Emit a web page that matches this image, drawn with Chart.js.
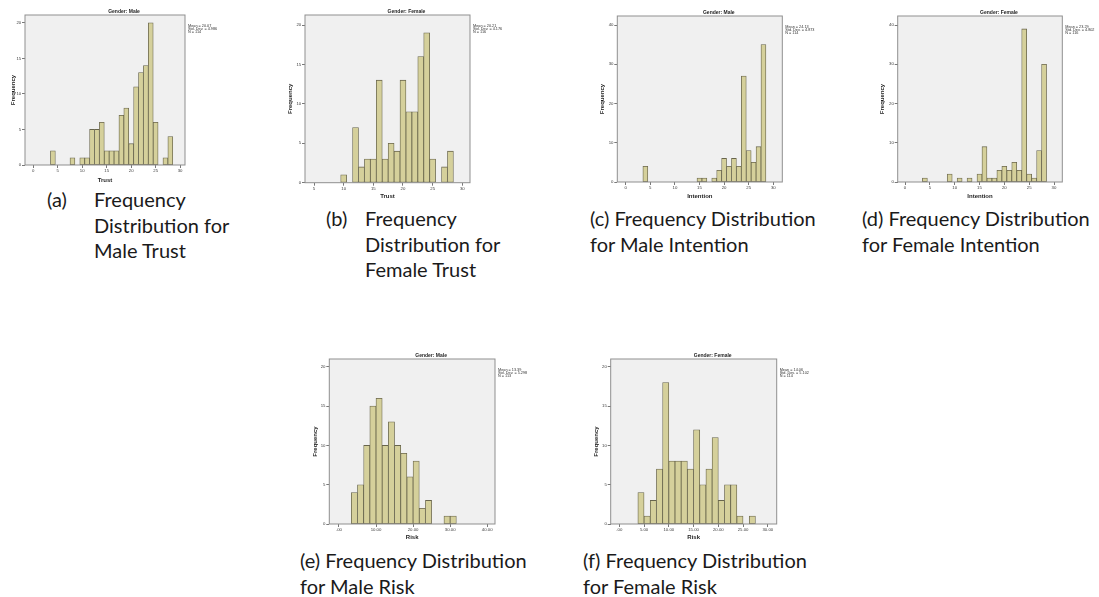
<!DOCTYPE html>
<html>
<head>
<meta charset="utf-8">
<script src="https://cdn.jsdelivr.net/npm/chart.js@4.4.1/dist/chart.umd.min.js"></script>
<style>
  body { margin: 0; background: #fff; width: 1099px; height: 597px; overflow: hidden; position: relative; }
  canvas { position: absolute; }
  .cap { position: absolute; font-family: Lato, "Noto Sans", sans-serif; font-size: 20px; line-height: 25.7px; color: #1a1a1a; white-space: nowrap; }
</style>
</head>
<body>
<div class="cap" style="left:47px;top:187px">(a)</div>
<div class="cap" style="left:94px;top:187px">Frequency<br>Distribution for<br>Male Trust</div>
<div class="cap" style="left:326px;top:206px">(b)</div>
<div class="cap" style="left:365px;top:206px">Frequency<br>Distribution for<br>Female Trust</div>
<div class="cap" style="left:590px;top:206px">(c) Frequency Distribution<br>for Male Intention</div>
<div class="cap" style="left:862px;top:206px">(d) Frequency Distribution<br>for Female Intention</div>
<div class="cap" style="left:300px;top:548px">(e) Frequency Distribution<br>for Male Risk</div>
<div class="cap" style="left:583px;top:548px">(f) Frequency Distribution<br>for Female Risk</div>

<script>
// bin centres (score values) and counts
const trustBins = [4, 5, 6, 7, 8, 9, 10, 11, 12, 13, 14, 15, 16, 17, 18, 19, 20, 21, 22, 23, 24, 25, 26, 27, 28];
const maleTrust = [2, 0, 0, 0, 1, 0, 1, 1, 5, 5, 6, 2, 2, 2, 7, 8, 3, 11, 13, 14, 20, 6, 0, 1, 4];
const femaleTrust = [0, 0, 0, 0, 0, 0, 1, 0, 7, 2, 3, 3, 13, 3, 5, 4, 13, 9, 9, 16, 19, 3, 0, 2, 4];

const intentionBins = [4, 5, 6, 7, 8, 9, 10, 11, 12, 13, 14, 15, 16, 17, 18, 19, 20, 21, 22, 23, 24, 25, 26, 27, 28];
const maleIntention = [4, 0, 0, 0, 0, 0, 0, 0, 0, 0, 0, 1, 1, 0, 1, 3, 6, 4, 6, 4, 27, 8, 5, 9, 35];
const femaleIntention = [1, 0, 0, 0, 0, 2, 0, 1, 0, 1, 0, 2, 9, 1, 1, 3, 4, 3, 5, 3, 39, 2, 1, 8, 30];

const maleRiskBins = [4.167, 5.833, 7.5, 9.167, 10.833, 12.5, 14.167, 15.833, 17.5, 19.167, 20.833, 22.5, 24.167, 25.833, 27.5, 29.167, 30.833];
const maleRisk = [4, 5, 10, 15, 16, 10, 13, 10, 9, 6, 8, 2, 3, 0, 0, 1, 1];
const femaleRiskBins = [4.375, 5.625, 6.875, 8.125, 9.375, 10.625, 11.875, 13.125, 14.375, 15.625, 16.875, 18.125, 19.375, 20.625, 21.875, 23.125, 24.375, 25.625, 26.875];
const femaleRisk = [4, 1, 3, 7, 18, 8, 8, 8, 7, 12, 5, 7, 11, 3, 5, 5, 1, 0, 1];

// legend text beside each plot
const statsMaleTrust = ['Mean = 20.07', 'Std. Dev. = 4.986', 'N = 114'];
const statsFemaleTrust = ['Mean = 20.21', 'Std. Dev. = 4.176', 'N = 116'];
const statsMaleIntention = ['Mean = 24.13', 'Std. Dev. = 4.873', 'N = 114'];
const statsFemaleIntention = ['Mean = 23.29', 'Std. Dev. = 4.802', 'N = 116'];
const statsMaleRisk = ['Mean = 13.39', 'Std. Dev. = 5.298', 'N = 113'];
const statsFemaleRisk = ['Mean = 14.06', 'Std. Dev. = 5.102', 'N = 114'];

const FONT = '"Liberation Sans", Arial, sans-serif';

// where each plot frame sits on the page: [left, top, right, bottom]
const panels = [
  { frame: [25, 15, 185, 165], rowTop: 0, offY: 11.7, offX: 15, x: [-1.7, 31.0, 5], y: [21.1, 5],
    title: 'Gender: Male', xTitle: 'Trust', bins: trustBins, counts: maleTrust, stats: statsMaleTrust },
  { frame: [305, 15, 470, 182.7], rowTop: 0, offY: 14.3, offX: 14, x: [3.48, 31.3, 5], y: [21.27, 5],
    title: 'Gender: Female', xTitle: 'Trust', bins: trustBins, counts: femaleTrust, stats: statsFemaleTrust },
  { frame: [617.3, 16, 782.3, 182], rowTop: 0, offY: 15, offX: 14.7, x: [-1.7, 31.83, 5], y: [42.3, 10],
    title: 'Gender: Male', xTitle: 'Intention', bins: intentionBins, counts: maleIntention, stats: statsMaleIntention },
  { frame: [897.7, 16, 1062.3, 182], rowTop: 0, offY: 15, offX: 14.7, x: [-1.47, 31.67, 5], y: [42.3, 10],
    title: 'Gender: Female', xTitle: 'Intention', bins: intentionBins, counts: femaleIntention, stats: statsFemaleIntention },
  { frame: [329.3, 359, 495, 524], rowTop: 340, offY: 14, offX: 13.7, x: [-2.6, 42.1, 10], y: [21.0, 5], risk: true,
    title: 'Gender: Male', xTitle: 'Risk', bins: maleRiskBins, counts: maleRisk, stats: statsMaleRisk },
  { frame: [610.7, 359, 776.7, 524], rowTop: 340, offY: 14, offX: 13.7, x: [-1.74, 31.8, 5], y: [21.0, 5], risk: true,
    title: 'Gender: Female', xTitle: 'Risk', bins: femaleRiskBins, counts: femaleRisk, stats: statsFemaleRisk }
];

// grey plot background, frame, heading and the stats block
const spssFrame = {
  id: 'spssFrame',
  beforeDraw(chart) {
    const { ctx, chartArea: a } = chart;
    ctx.save();
    ctx.fillStyle = '#f0f0f0';
    ctx.fillRect(a.left, a.top, a.right - a.left, a.bottom - a.top);
    ctx.restore();
  },
  afterDatasetsDraw(chart, args, opts) {
    const { ctx, chartArea: a } = chart;
    ctx.save();
    ctx.strokeStyle = '#8f8f8f';
    ctx.lineWidth = 1;
    ctx.strokeRect(a.left, a.top, a.right - a.left, a.bottom - a.top);
    ctx.fillStyle = '#1e1e1e';
    ctx.font = 'bold 5px ' + FONT;
    ctx.textAlign = 'center';
    ctx.textBaseline = 'middle';
    ctx.fillText(opts.title, (a.left + a.right) / 2 + 19, a.top - 3.5);
    ctx.font = '3.8px ' + FONT;
    ctx.textAlign = 'left';
    ctx.fillStyle = '#333';
    opts.stats.forEach((s, i) => ctx.fillText(s, a.right + 3, a.top + 10.5 + i * 3.3));
    ctx.restore();
  }
};

panels.forEach(p => {
  const [fl, ft, fr, fb] = p.frame;
  const cx = Math.round(fl - p.offY - 3.6);
  const cy = p.rowTop;
  const cw = Math.min(1099, Math.round(fr + 37)) - cx;
  const ch = Math.round(fb + p.offX + 3.6) - cy;
  const yW = fl - cx;
  const xH = cy + ch - fb;

  const cv = document.createElement('canvas');
  cv.width = cw; cv.height = ch;
  cv.style.left = cx + 'px'; cv.style.top = cy + 'px';
  cv.style.width = cw + 'px'; cv.style.height = ch + 'px';
  document.body.appendChild(cv);

  new Chart(cv, {
    type: 'bar',
    data: {
      datasets: [{
        data: p.bins.map((b, i) => ({ x: b, y: p.counts[i] })),
        backgroundColor: '#d5d09b',
        borderColor: '#68654c',
        borderWidth: 0.8,
        borderSkipped: false,
        barPercentage: 1,
        categoryPercentage: 1
      }]
    },
    options: {
      responsive: false,
      animation: false,
      devicePixelRatio: 1,
      layout: { padding: { left: 0, top: ft - cy, right: cx + cw - fr, bottom: 0 } },
      plugins: {
        legend: { display: false },
        tooltip: { enabled: false },
        spssFrame: { title: p.title, stats: p.stats }
      },
      scales: {
        x: {
          type: 'linear', min: p.x[0], max: p.x[1], offset: false,
          afterFit: s => { s.height = xH; },
          ticks: {
            stepSize: p.x[2], includeBounds: false, autoSkip: false, maxRotation: 0, padding: 0.5,
            color: '#3a3a3a', font: { family: FONT, size: 4.3 },
            callback: v => p.risk ? (v === 0 ? '.00' : v.toFixed(2)) : String(v)
          },
          grid: { drawOnChartArea: false, drawTicks: true, tickLength: 3, color: '#555', lineWidth: 0.8, offset: false },
          border: { display: false },
          title: { display: true, text: p.xTitle, padding: 0, color: '#1e1e1e', font: { family: FONT, size: 6, weight: 'bold' } }
        },
        y: {
          min: 0, max: p.y[0],
          afterFit: s => { s.width = yW; },
          ticks: {
            stepSize: p.y[1], includeBounds: false, padding: 0.8,
            color: '#3a3a3a', font: { family: FONT, size: 4.3 }
          },
          grid: { drawOnChartArea: false, drawTicks: true, tickLength: 3, color: '#555', lineWidth: 0.8 },
          border: { display: false },
          title: { display: true, text: 'Frequency', padding: 0, color: '#1e1e1e', font: { family: FONT, size: 6, weight: 'bold' } }
        }
      }
    },
    plugins: [spssFrame]
  });
});
</script>
</body>
</html>
